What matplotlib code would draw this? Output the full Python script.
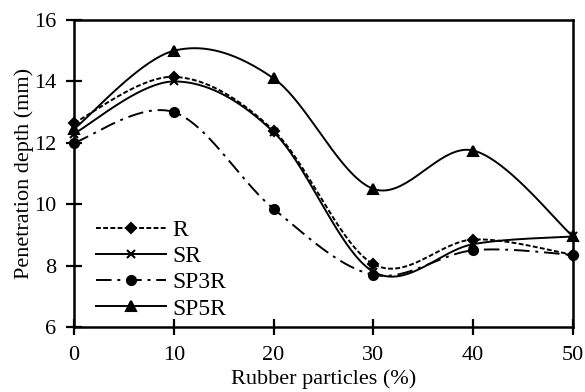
import numpy as np
import matplotlib
matplotlib.use('Agg')
import matplotlib.pyplot as plt
from matplotlib.lines import Line2D

plt.rcParams['font.family'] = ['Liberation Serif', 'DejaVu Serif']

# rubber content (%)
rubber = [0, 10, 20, 30, 40, 50]

# penetration depth (mm) per mix
depth_R = [12.65, 14.15, 12.4, 8.05, 8.85, 8.35]
depth_SR = [12.3, 14.0, 12.35, 7.8, 8.7, 8.95]
depth_SP3R = [12.0, 13.0, 9.85, 7.7, 8.5, 8.35]
depth_SP5R = [12.45, 15.0, 14.1, 10.5, 11.75, 8.95]

names = ['R', 'SR', 'SP3R', 'SP5R']


def smooth(xs, ys, n=40):
    # Catmull-Rom style smoothing like spreadsheet "smoothed lines"
    p = np.column_stack([xs, ys]).astype(float)
    p_ext = np.vstack([p[0], p, p[-1]])
    out = []
    t = np.linspace(0, 1, n)[:, None]
    for i in range(len(p) - 1):
        p0, p1, p2, p3 = p_ext[i], p_ext[i + 1], p_ext[i + 2], p_ext[i + 3]
        c1 = p1 + (p2 - p0) / 6
        c2 = p2 - (p3 - p1) / 6
        seg = ((1 - t) ** 3) * p1 + 3 * ((1 - t) ** 2) * t * c1 \
            + 3 * (1 - t) * t ** 2 * c2 + t ** 3 * p2
        out.append(seg if i == 0 else seg[1:])
    seg = np.vstack(out)
    return seg[:, 0], seg[:, 1]


styles = [
    dict(ls=(0, (2.5, 1.2)), marker='D', ms=5),
    dict(ls='-', marker='x', ms=6),
    dict(ls=(0, (8, 3, 1.5, 3)), marker='o', ms=6.5),
    dict(ls='-', marker='^', ms=6.5),
]

fig = plt.figure(figsize=(5.85, 3.92), dpi=100)
ax = fig.add_axes([0.1265, 0.1658, 0.853, 0.783])

handles = []
for ys, st, name in zip([depth_R, depth_SR, depth_SP3R, depth_SP5R], styles, names):
    sx, sy = smooth(rubber, ys)
    ax.plot(sx, sy, color='black', lw=1.4, ls=st['ls'])
    ax.plot(rubber, ys, ls='none', marker=st['marker'], ms=st['ms'],
            color='black', mew=1.5, clip_on=False, zorder=3)
    handles.append(Line2D([], [], color='black', lw=1.4, ls=st['ls'],
                          marker=st['marker'], ms=st['ms'], mew=1.5))

ax.set_xlim(0, 50)
ax.set_ylim(6, 16)
ax.set_xticks(rubber)
ax.set_yticks([6, 8, 10, 12, 14, 16])
ax.tick_params(direction='inout', length=12, width=1.6, labelsize=16)
ax.tick_params(axis='x', pad=8)
ax.tick_params(axis='y', pad=7)
for sp in ax.spines.values():
    sp.set_linewidth(1.8)

ax.set_xlabel('Rubber particles (%)', fontsize=16, labelpad=3)
ax.set_ylabel('Penetration depth (mm)', fontsize=16, labelpad=0)

ax.legend(handles, names, loc='lower left', bbox_to_anchor=(0.01, -0.03),
          frameon=False, fontsize=17, handlelength=3.0, handletextpad=0.25,
          labelspacing=0.2, borderaxespad=0.3)

fig.savefig('out.png', dpi=100)
